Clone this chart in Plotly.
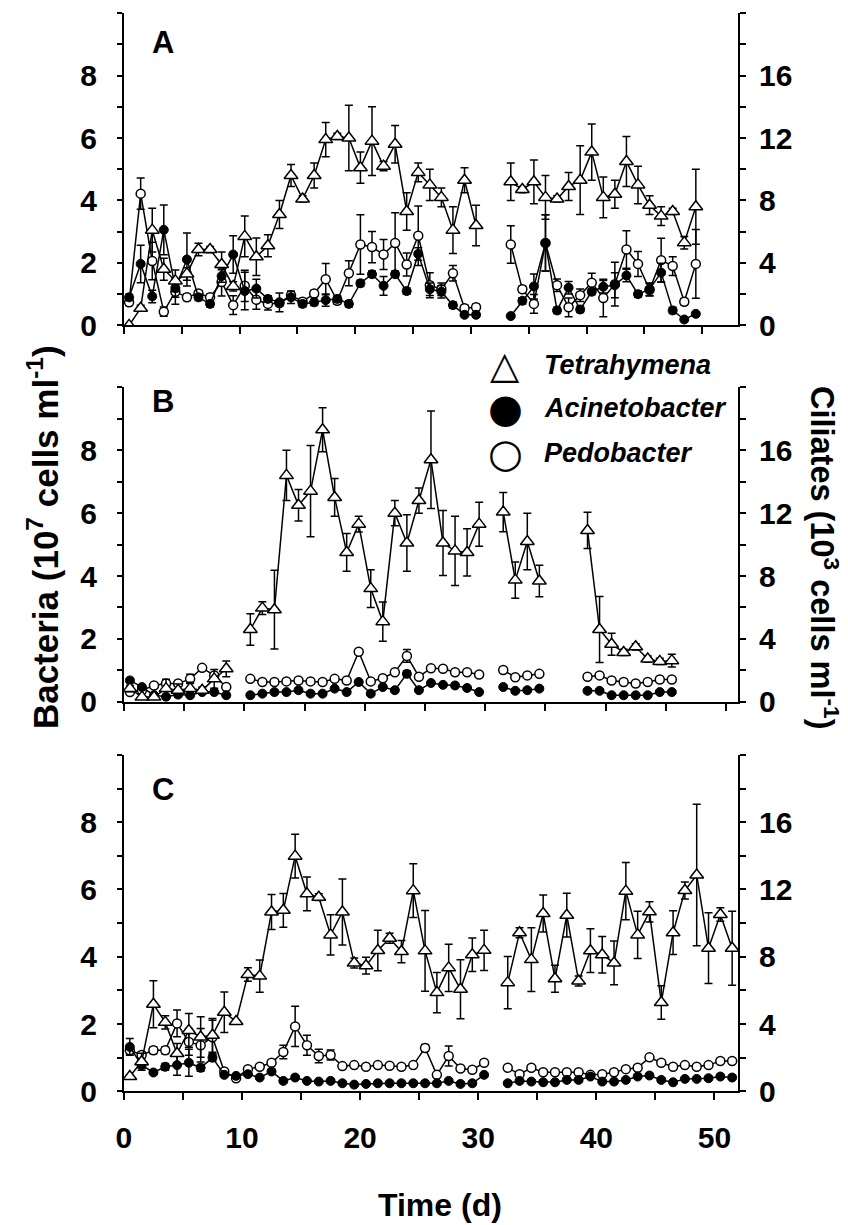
import plotly.graph_objects as go

# ---------------- DATA ----------------
# Panel A (days, ciliates in 10^3 cells/ml, bacteria in 10^7 cells/ml)
days_a = [0.45, 1.45, 2.45, 3.45, 4.45, 5.45, 6.45, 7.45, 8.45, 9.45,
          10.45, 11.45, 12.45, 13.45, 14.45, 15.45, 16.45, 17.45, 18.45, 19.45,
          20.45, 21.45, 22.45, 23.45, 24.45, 25.45, 26.45, 27.45, 28.45, 29.45,
          30.45, 31.45, 32.45, 33.45, 34.45, 35.45, 36.45, 37.45, 38.45, 39.45,
          40.45, 41.45, 42.45, 43.45, 44.45, 45.45, 46.45, 47.45, 48.45, 49.45]
tet_a = [0.0, 1.1, 6.1, 3.6, 2.85, 3.3, 4.86, 4.86, 3.9, 2.5,
         5.7, 4.4, 5.1, 7.1, 9.6, 8.1, 9.6, 11.9, 12.1, 12.0,
         10.1, 11.8, 10.2, 11.6, 7.3, 9.8, 9.0, 8.2, 6.1, 9.3,
         6.4, None, None, 9.2, 8.7, 9.2, 8.2, 8.1, 8.9, 9.3,
         11.1, 8.2, 8.4, 10.5, 9.0, 7.7, 7.0, 7.3, 5.3, 7.6]
tet_a_err = [0.0, 0.2, 1.4, 0.7, 0.7, 0.4, 0.4, 0.2, 0.8, 0.3,
             1.3, 1.2, 0.7, 0.9, 0.7, 0.2, 0.8, 1.1, 0.2, 2.1,
             1.0, 2.2, 0.3, 1.2, 1.2, 0.6, 1.0, 0.6, 1.5, 0.8,
             1.3, 0, 0, 1.2, 0.2, 1.4, 1.4, 0.2, 0.9, 2.2,
             1.8, 1.3, 0.9, 1.6, 1.2, 0.6, 0.6, 0.2, 0.4, 2.4]
acin_a = [0.9, 1.97, 0.93, 3.06, 1.2, 2.11, 0.9, 0.69, 1.58, 2.27,
          1.1, 1.18, 0.85, 0.74, 0.9, 0.69, 0.74, 0.81, 0.85, 0.69,
          1.35, 1.64, 1.27, 1.64, 1.1, 2.29, 1.16, 1.08, 0.65, 0.34,
          0.34, None, None, 0.3, 0.79, 1.25, 2.64, 0.48, 1.21, 0.51,
          1.08, 1.24, 1.29, 1.6, 1.0, 1.16, 1.69, 0.48, 0.19, 0.37]
acin_a_err = [0.1, 0.6, 0.2, 0.8, 0.3, 0.85, 0.1, 0.1, 0.2, 0.6,
              0.6, 0.3, 0.1, 0.3, 0.2, 0.1, 0.1, 0.2, 0.1, 0.1,
              0.1, 0.1, 0.3, 0.1, 0.1, 0.2, 0.2, 0.2, 0.1, 0.05,
              0.05, 0, 0, 0.05, 0.1, 0.4, 0.9, 0.1, 0.2, 0.1,
              0.1, 0.2, 0.4, 0.2, 0.1, 0.2, 0.3, 0.1, 0.05, 0.05]
ped_a = [0.74, 4.22, 2.06, 0.44, 1.08, 0.9, 1.02, 0.9, 1.39, 0.65,
         1.27, 0.82, 0.69, 0.72, 0.97, 0.76, 1.02, 1.48, 0.79, 1.67,
         2.59, 2.51, 2.27, 2.64, 1.95, 2.87, 1.29, 1.16, 1.67, 0.55,
         0.58, None, None, 2.59, 1.16, 0.69, 2.64, 1.29, 0.58, 0.97,
         1.37, 0.88, 1.32, 2.43, 1.97, 1.14, 2.09, 1.9, 0.76, 1.97]
ped_a_err = [0.1, 0.5, 0.6, 0.15, 0.4, 0.1, 0.1, 0.1, 0.45, 0.3,
             0.5, 0.3, 0.2, 0.1, 0.1, 0.1, 0.1, 0.5, 0.1, 0.4,
             0.95, 0.5, 0.48, 0.97, 0.37, 0.95, 0.4, 0.2, 0.25, 0.1,
             0.1, 0, 0, 0.6, 0.1, 0.3, 0.9, 0.2, 0.3, 0.2,
             0.3, 0.6, 0.7, 0.6, 0.4, 0.2, 0.7, 0.3, 0.1, 1.1]

# Panel B
days_b = [0.5, 1.5, 2.5, 3.5, 4.5, 5.5, 6.5, 7.5, 8.5, 9.5,
          10.5, 11.5, 12.5, 13.5, 14.5, 15.5, 16.5, 17.5, 18.5, 19.5,
          20.5, 21.5, 22.5, 23.5, 24.5, 25.5, 26.5, 27.5, 28.5, 29.5,
          30.5, 31.5, 32.5, 33.5, 34.5, 35.5, 36.5, 37.5, 38.5, 39.5,
          40.5, 41.5, 42.5, 43.5, 44.5, 45.5]
tet_b = [0.84, 0.3, 0.3, 0.84, 0.73, 0.84, 0.73, 1.46, 2.1, None,
         4.6, 5.96, 5.86, 14.4, 12.5, 13.4, 17.3, 13.0, 9.5, 11.3,
         7.2, 5.1, 12.0, 10.1, 12.8, 15.4, 10.1, 9.6, 9.5, 11.3,
         None, 12.07, 7.74, 10.2, 7.68, None, None, None, 10.9, 4.6,
         3.66, 3.14, 3.5, 2.72, 2.57, 2.62]
tet_b_err = [0.2, 0, 0, 0.6, 0.4, 0.4, 0.2, 0.6, 0.5, 0,
             1.0, 0.4, 2.5, 1.6, 1.0, 2.9, 1.4, 1.2, 1.2, 0.5,
             1.2, 1.25, 0.8, 1.8, 0.8, 3.1, 2.07, 2.2, 1.5, 1.4,
             0, 1.25, 1.15, 1.8, 1.0, 0, 0, 0, 1.15, 2.1,
             0.7, 0.2, 0.2, 0.2, 0.2, 0.4]
acin_b = [0.68, 0.47, 0.21, 0.16, 0.23, 0.21, 0.31, 0.31, 0.21, None,
          0.21, 0.26, 0.31, 0.31, 0.37, 0.26, 0.26, 0.42, 0.31, 0.63,
          0.26, 0.47, 0.37, 0.89, 0.37, 0.6, 0.54, 0.52, 0.44, 0.31,
          None, 0.47, 0.35, 0.37, 0.42, None, None, None, 0.35, 0.35,
          0.21, 0.21, 0.21, 0.21, 0.31, 0.31]
acin_b_err = [0.05, 0.05, 0.05, 0.05, 0.05, 0.05, 0.05, 0.05, 0.05, 0,
              0.05, 0.05, 0.05, 0.05, 0.05, 0.05, 0.05, 0.05, 0.05, 0.05,
              0.05, 0.05, 0.05, 0.1, 0.05, 0.05, 0.05, 0.05, 0.05, 0.05,
              0, 0.05, 0.05, 0.05, 0.05, 0, 0, 0, 0.05, 0.05,
              0.05, 0.05, 0.05, 0.05, 0.05, 0.05]
ped_b = [0.31, 0.37, 0.52, 0.58, 0.58, 0.73, 1.08, 0.84, 0.47, None,
         0.73, 0.63, 0.63, 0.65, 0.68, 0.65, 0.63, 0.73, 0.68, 1.59,
         0.65, 0.75, 0.94, 1.46, 0.8, 1.07, 1.05, 0.94, 0.94, 0.87,
         None, 1.01, 0.78, 0.84, 0.89, None, None, None, 0.8, 0.84,
         0.68, 0.63, 0.58, 0.63, 0.71, 0.71]
ped_b_err = [0.05, 0.05, 0.05, 0.1, 0.05, 0.15, 0.05, 0.05, 0.05, 0,
             0.05, 0.05, 0.05, 0.05, 0.05, 0.05, 0.05, 0.05, 0.05, 0.05,
             0.05, 0.05, 0.05, 0.2, 0.05, 0.05, 0.05, 0.05, 0.05, 0.05,
             0, 0.05, 0.05, 0.05, 0.05, 0, 0, 0, 0.05, 0.05,
             0.05, 0.05, 0.05, 0.05, 0.05, 0.05]

# Panel C
days_c = [0.5, 1.5, 2.5, 3.5, 4.5, 5.5, 6.5, 7.5, 8.5, 9.5,
          10.5, 11.5, 12.5, 13.5, 14.5, 15.5, 16.5, 17.5, 18.5, 19.5,
          20.5, 21.5, 22.5, 23.5, 24.5, 25.5, 26.5, 27.5, 28.5, 29.5,
          30.5, 31.5, 32.5, 33.5, 34.5, 35.5, 36.5, 37.5, 38.5, 39.5,
          40.5, 41.5, 42.5, 43.5, 44.5, 45.5, 46.5, 47.5, 48.5, 49.5,
          50.5, 51.5]
tet_c = [0.88, 1.76, 5.18, 4.1, 2.25, 3.62, 3.23, 3.33, 4.7, 4.15,
         6.94, 6.85, 10.66, 10.76, 13.98, 11.74, 11.54, 9.3, 10.66, 7.63,
         7.47, 8.37, 9.1, 8.31, 11.93, 8.35, 5.87, 7.34, 6.07, 8.12,
         8.38, None, 6.46, 9.43, 7.83, 10.57, 6.69, 10.47, 6.56, 8.36,
         8.12, 7.63, 11.9, 9.3, 10.67, 5.28, 9.43, 11.94, 12.86, 8.51,
         10.51, 8.51]
tet_c_err = [0.1, 0.5, 1.4, 0.4, 0.6, 1.0, 1.2, 1.0, 1.2, 0.1,
             0.4, 0.96, 1.04, 1.0, 1.3, 1.0, 0.2, 1.2, 1.96, 0.3,
             0.5, 1.2, 0.3, 0.66, 1.6, 2.4, 1.2, 1.4, 1.75, 1.0,
             1.2, 0, 1.55, 0.3, 1.9, 1.1, 0.8, 1.3, 0.3, 1.3,
             1.08, 1.3, 1.7, 1.4, 0.6, 1.0, 1.3, 0.5, 4.2, 2.1,
             0.4, 2.2]
acin_c = [1.32, 0.78, 0.56, 0.73, 0.78, 0.85, 0.7, 1.0, 0.49, 0.46,
          0.51, 0.41, 0.59, 0.31, 0.41, 0.31, 0.29, 0.31, 0.24, 0.2,
          0.22, 0.24, 0.24, 0.24, 0.24, 0.24, 0.24, 0.31, 0.22, 0.24,
          0.49, None, 0.24, 0.31, 0.29, 0.27, 0.27, 0.34, 0.34, 0.44,
          0.29, 0.29, 0.34, 0.44, 0.47, 0.34, 0.27, 0.37, 0.37, 0.39,
          0.44, 0.41]
acin_c_err = [0.25, 0.1, 0.05, 0.1, 0.3, 0.4, 0.1, 0.1, 0.05, 0.05,
              0.05, 0.05, 0.05, 0.05, 0.05, 0.05, 0.05, 0.05, 0.05, 0.05,
              0.05, 0.05, 0.05, 0.05, 0.05, 0.05, 0.05, 0.05, 0.05, 0.05,
              0.05, 0, 0.05, 0.05, 0.05, 0.05, 0.05, 0.05, 0.05, 0.05,
              0.05, 0.05, 0.05, 0.05, 0.05, 0.05, 0.05, 0.05, 0.05, 0.05,
              0.05, 0.05]
ped_c = [1.22, 1.08, 1.22, 1.22, 2.02, 1.47, 1.37, 1.61, 0.59, 0.39,
         0.66, 0.73, 0.85, 1.17, 1.93, 1.37, 1.05, 1.08, 0.75, 0.78,
         0.73, 0.78, 0.76, 0.73, 0.78, 1.29, 0.49, 1.05, 0.68, 0.64,
         0.85, None, 0.70, 0.51, 0.70, 0.57, 0.57, 0.57, 0.57, 0.49,
         0.51, 0.57, 0.66, 0.70, 1.01, 0.85, 0.73, 0.78, 0.73, 0.78,
         0.9, 0.9]
ped_c_err = [0.1, 0.1, 0.1, 0.1, 0.4, 0.4, 0.5, 0.5, 0.05, 0.05,
             0.05, 0.05, 0.05, 0.2, 0.6, 0.3, 0.2, 0.15, 0.05, 0.05,
             0.05, 0.05, 0.05, 0.05, 0.05, 0.1, 0.05, 0.3, 0.05, 0.05,
             0.05, 0, 0.05, 0.05, 0.05, 0.05, 0.05, 0.05, 0.05, 0.05,
             0.05, 0.05, 0.05, 0.05, 0.05, 0.05, 0.05, 0.05, 0.05, 0.05,
             0.05, 0.05]

panel_labels = ["A", "B", "C"]
x_max = [53.1, 51.0, 52.0]
x_labels = [0, 10, 20, 30, 40, 50]
bact_labels = [0, 2, 4, 6, 8]
bact_ticks = [0, 1, 2, 3, 4, 5, 6, 7, 8, 9, 10]
cil_labels = [0, 4, 8, 12, 16]
cil_ticks = [0, 2, 4, 6, 8, 10, 12, 14, 16, 18, 20]
species = ["Tetrahymena", "Acinetobacter", "Pedobacter"]

# ---------------- LAYOUT GEOMETRY (pixels) ----------------
W, H = 848, 1225
FONT = "Liberation Sans, Arial, sans-serif"
panel_px = [(13.3, 330.0), (392.8, 711.7), (765.5, 1106.7)]  # top, bottom
x_left_px, x_right_px = 117.0, 737.0


def fx(px):
    return px / W


def fy(py):
    return 1 - py / H


panels = [
    (days_a, tet_a, tet_a_err, acin_a, acin_a_err, ped_a, ped_a_err),
    (days_b, tet_b, tet_b_err, acin_b, acin_b_err, ped_b, ped_b_err),
    (days_c, tet_c, tet_c_err, acin_c, acin_c_err, ped_c, ped_c_err),
]

fig = go.Figure()
layout = {}
tickfont = dict(family=FONT, size=30, color="black", weight="bold")


def yname(n):
    return "y" if n == 1 else f"y{n}"


def ykey(n):
    return "yaxis" if n == 1 else f"yaxis{n}"


def err(arr):
    return dict(type="data", array=arr, visible=True, color="black",
                thickness=1.5, width=4)


for p, (days, tet, tet_e, acin, acin_e, ped, ped_e) in enumerate(panels):
    xn = "" if p == 0 else str(p + 1)
    yL = 4 * p + 1
    yLi, yR, yRi = yL + 1, yL + 2, yL + 3
    top, bot = panel_px[p]
    ydom = [fy(bot), fy(top)]

    fig.add_trace(go.Scatter(
        x=days, y=ped, mode="lines+markers", name=species[2], showlegend=False,
        xaxis="x" + xn, yaxis=yname(yL), error_y=err(ped_e),
        line=dict(color="black", width=1.5),
        marker=dict(symbol="circle", size=9, color="white",
                    line=dict(color="black", width=1.5))))
    fig.add_trace(go.Scatter(
        x=days, y=acin, mode="lines+markers", name=species[1], showlegend=False,
        xaxis="x" + xn, yaxis=yname(yL), error_y=err(acin_e),
        line=dict(color="black", width=1.5),
        marker=dict(symbol="circle", size=9, color="black",
                    line=dict(color="black", width=1))))
    fig.add_trace(go.Scatter(
        x=days, y=tet, mode="lines+markers", name=species[0], showlegend=False,
        xaxis="x" + xn, yaxis=yname(yR), error_y=err(tet_e),
        line=dict(color="black", width=1.5),
        marker=dict(symbol="triangle-up", size=12, color="white",
                    line=dict(color="black", width=1.5))))

    layout["xaxis" + xn] = dict(
        domain=[fx(x_left_px), fx(x_right_px)], range=[0, x_max[p]],
        anchor=yname(yL), showline=True, linecolor="black", linewidth=2,
        ticks="outside", ticklen=7, tickwidth=2, tickcolor="black",
        tickmode="array", tickvals=x_labels,
        minor=dict(dtick=5, tick0=0, ticks="outside", ticklen=7, tickwidth=2,
                   tickcolor="black", showgrid=False),
        showticklabels=(p == 2), tickfont=tickfont, ticklabelstandoff=12,
        showgrid=False, zeroline=False, fixedrange=True)
    common = dict(domain=ydom, showgrid=False, zeroline=False, tickwidth=2,
                  tickcolor="black", tickmode="array", fixedrange=True)
    layout[ykey(yL)] = dict(common, range=[0, 10], anchor="x" + xn, side="left",
                            showline=True, linecolor="black", linewidth=2,
                            ticks="outside", ticklen=5, tickvals=bact_labels,
                            minor=dict(dtick=1, tick0=0, ticks="outside", ticklen=5,
                                       tickwidth=2, tickcolor="black", showgrid=False),
                            tickfont=tickfont, ticklabelstandoff=14)
    layout[ykey(yLi)] = dict(common, range=[0, 10], anchor="x" + xn, side="left",
                             overlaying=yname(yL), showline=False,
                             ticks="inside", ticklen=5, tickvals=bact_ticks,
                             showticklabels=False)
    layout[ykey(yR)] = dict(common, range=[0, 20], anchor="x" + xn, side="right",
                            overlaying=yname(yL), showline=True, linecolor="black",
                            linewidth=2, ticks="outside", ticklen=6,
                            tickvals=cil_labels,
                            minor=dict(dtick=2, tick0=0, ticks="outside", ticklen=6,
                                       tickwidth=2, tickcolor="black", showgrid=False),
                            tickfont=tickfont, ticklabelstandoff=7)
    layout[ykey(yRi)] = dict(common, range=[0, 20], anchor="x" + xn, side="right",
                             overlaying=yname(yL), showline=False,
                             ticks="inside", ticklen=6, tickvals=cil_ticks,
                             showticklabels=False)

annotations = []
label_py = [43.5, 407.0, 801.0]
for p in range(3):
    annotations.append(dict(text=panel_labels[p], x=fx(156), y=fy(label_py[p]),
                            xref="paper", yref="paper", showarrow=False,
                            xanchor="center", yanchor="middle",
                            font=dict(family=FONT, size=31, color="black", weight="bold")))

# axis titles
annotations.append(dict(text="Bacteria (10<sup>7</sup> cells ml<sup>-1</sup>)",
                        x=fx(36), y=fy(545), xref="paper", yref="paper",
                        showarrow=False, textangle=-90, xanchor="center", yanchor="middle",
                        font=dict(family=FONT, size=35, color="black", weight="bold")))
annotations.append(dict(text="Ciliates (10<sup>3</sup> cells ml<sup>-1</sup>)",
                        x=fx(824), y=fy(566), xref="paper", yref="paper",
                        showarrow=False, textangle=90, xanchor="center", yanchor="middle",
                        borderpad=0,
                        font=dict(family=FONT, size=32.5, color="black", weight="bold")))
annotations.append(dict(text="Time (d)", x=fx(436), y=-16 / H, xref="paper", yref="paper",
                        showarrow=False, xanchor="center", yanchor="bottom", borderpad=0,
                        font=dict(family=FONT, size=32, color="black", weight="bold")))

# legend (symbols + italic names)
leg_y = [370, 414, 459]
leg_sym = ["\u25B3", "\u25CF", "\u25CB"]
leg_size = [38, 40, 40]
for i in range(3):
    annotations.append(dict(text=leg_sym[i], x=fx(502), y=fy(leg_y[i]), xref="paper",
                            yref="paper", showarrow=False, xanchor="center", yanchor="middle",
                            font=dict(family="DejaVu Sans", size=leg_size[i], color="black")))
    annotations.append(dict(text=species[i], x=fx(539), y=fy(leg_y[i]), xref="paper",
                            yref="paper", showarrow=False, xanchor="left", yanchor="middle",
                            font=dict(family=FONT, size=27, color="black",
                                      weight="bold", style="italic")))

layout.update(dict(width=W, height=H, autosize=False,
                   margin=dict(l=0, r=0, t=0, b=0, pad=0),
                   paper_bgcolor="white", plot_bgcolor="rgba(0,0,0,0)",
                   showlegend=False, annotations=annotations))
fig.update_layout(**layout)
fig.write_html("out.html")
